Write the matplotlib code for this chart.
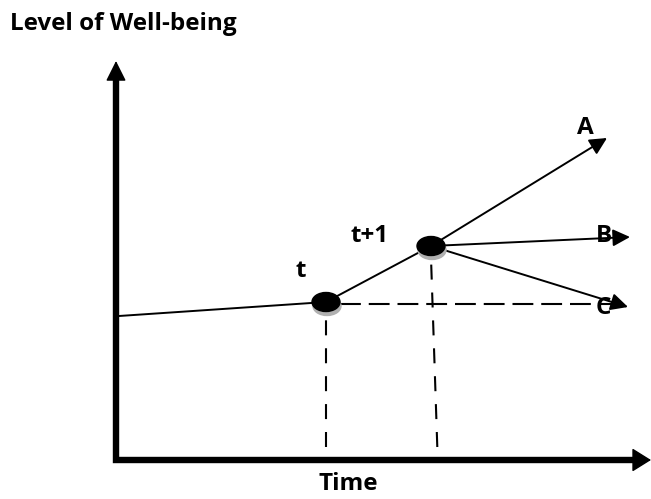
import matplotlib.pyplot as plt
from matplotlib.patches import Ellipse

plt.rcParams['font.family'] = ['Open Sans', 'DejaVu Sans']

# Diagram drawn in picture units (origin top-left, y grows downward)
origin = (116, 460)
y_axis_top = 61
x_axis_right = 651

start_point = (119, 316)
point_labels = ['t', 't+1']
point_x = [326, 431]
point_y = [302, 246]
label_x = [301, 370]
label_y = [271, 236]

scenario_labels = ['A', 'B', 'C']
scenario_end_x = [607, 630, 628]
scenario_end_y = [138, 237, 307]
scenario_label_x = [585, 604, 603]
scenario_label_y = [128, 236, 308]

dash_bottom = 447
dash_right = 615
dash_level = 304

fig = plt.figure(figsize=(6.51, 4.99), dpi=100)
ax = fig.add_axes([0, 0, 1, 1])
ax.set_xlim(0, 651)
ax.set_ylim(499, 0)
ax.axis('off')

# axes: L-shaped frame plus arrow heads
ax.plot([origin[0], origin[0], x_axis_right - 12],
        [y_axis_top + 12, origin[1], origin[1]],
        color='black', lw=4.6, solid_joinstyle='miter', solid_capstyle='butt')
ax.annotate('', xy=(origin[0], y_axis_top), xytext=(origin[0], y_axis_top + 25),
            arrowprops=dict(arrowstyle='-|>,head_length=0.9,head_width=0.45', lw=1,
                            color='black', shrinkA=0, shrinkB=0, mutation_scale=14))
ax.annotate('', xy=(x_axis_right, origin[1]), xytext=(x_axis_right - 25, origin[1]),
            annotation_clip=False,
            arrowprops=dict(arrowstyle='-|>,head_length=0.8,head_width=0.5', lw=1,
                            color='black', shrinkA=0, shrinkB=0, mutation_scale=15))

# dashed guides (drawn from the bottom so the last dash sits on the floor)
for px, py in zip(point_x, point_y):
    ax.plot([px + (px - point_x[0]) * 0.06, px], [dash_bottom, py + 12],
            color='black', lw=1.5, linestyle=(0, (7.2, 6.2)))
ax.plot([point_x[0] + 14, dash_right], [dash_level, dash_level],
        color='black', lw=1.5, linestyle=(0, (10, 3.8)))

# trajectory up to t and t+1
ax.plot([start_point[0], point_x[0], point_x[1]],
        [start_point[1], point_y[0], point_y[1]], color='black', lw=1.4)

# scenarios A, B, C
for lab, ex, ey, lx, ly in zip(scenario_labels, scenario_end_x, scenario_end_y,
                               scenario_label_x, scenario_label_y):
    ax.annotate('', xy=(ex, ey), xytext=(point_x[1], point_y[1]),
                arrowprops=dict(arrowstyle='-|>,head_length=0.8,head_width=0.4',
                                lw=1.4, color='black', shrinkA=0, shrinkB=0,
                                mutation_scale=13))
    ax.text(lx, ly, lab, ha='center', va='center', fontsize=17.5,
            fontweight='bold', zorder=5)

# points with grey shadow
for px, py, lab, lx, ly in zip(point_x, point_y, point_labels, label_x, label_y):
    ax.add_patch(Ellipse((px + 1, py + 4), 28, 19, color='#b0b0b0', zorder=3))
    ax.add_patch(Ellipse((px, py), 28, 19, color='black', zorder=4))
    ax.text(lx, ly, lab, ha='center', va='center', fontsize=17.5,
            fontweight='bold')

ax.text(10, 24, 'Level of Well-being', ha='left', va='center', fontsize=17.5,
        fontweight='bold')
ax.text(348, 484, 'Time', ha='center', va='center', fontsize=17.5,
        fontweight='bold')

fig.savefig('out.png', dpi=100)
